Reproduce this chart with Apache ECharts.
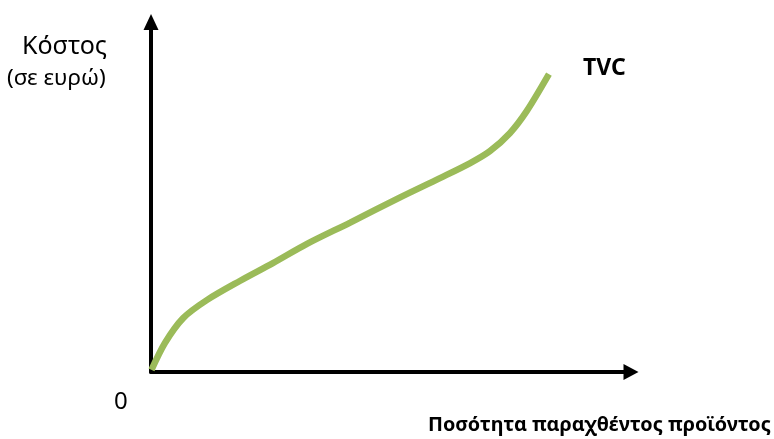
<!DOCTYPE html>
<html><head><meta charset="utf-8">
<script src="https://cdn.jsdelivr.net/npm/echarts@6/dist/echarts.min.js"></script>
<style>html,body{margin:0;padding:0;background:#fff}#c{width:774px;height:439px}</style>
</head><body><div id="c"></div>
<script>
var quantity = [0.1, 2.9, 6.7, 11.7, 18.5, 25.4, 32.5, 41.5, 51.9, 60.2, 66.5, 70.6, 74.8, 78.3, 82.9];
var tvc =      [0.6, 8.3, 15.4, 20.6, 26.0, 31.1, 36.6, 42.7, 49.9, 55.4, 59.7, 63.1, 68.3, 74.6, 85.1];
var seriesName = 'TVC';
var yTitle = 'Κόστος';
var ySub = '(σε ευρώ)';
var xTitle = 'Ποσότητα παραχθέντος προϊόντος';
var originLabel = '0';

var pts = quantity.map(function(q, i){ return [q, tvc[i]]; });
var chart = echarts.init(document.getElementById('c'));
var font = 'Noto Sans';
function t(text, left, top, size, weight) {
  return {text: text, left: left, top: top, padding: 0,
    textStyle: {fontFamily: font, fontSize: size, fontWeight: weight, color: '#000'}};
}
chart.setOption({
  animation: false,
  grid: {left: 151, right: 143, top: 22, bottom: 67},
  title: [
    t(yTitle, 22, 34, 25, 'normal'),
    t(ySub, 7, 67, 22.5, 'normal'),
    t(originLabel, 114, 390, 24, 'normal'),
    t(xTitle, 428, 415, 19.8, 'bold'),
    t(seriesName, 583, 57, 23, 'bold')
  ],
  xAxis: {type: 'value', min: 0, max: 100,
    axisLine: {show: true, lineStyle: {color: '#000', width: 4}, symbol: ['none', 'triangle'], symbolSize: [16, 15]},
    axisTick: {show: false}, axisLabel: {show: false}, splitLine: {show: false}},
  yAxis: {type: 'value', min: 0, max: 100,
    axisLine: {show: true, lineStyle: {color: '#000', width: 4}, symbol: ['none', 'triangle'], symbolSize: [15, 16]},
    axisTick: {show: false}, axisLabel: {show: false}, splitLine: {show: false}},
  series: [{type: 'line', name: seriesName, data: pts, smooth: 0.3, showSymbol: false,
    lineStyle: {color: '#9BBB59', width: 6.5}, z: 1}]
});
</script></body></html>
